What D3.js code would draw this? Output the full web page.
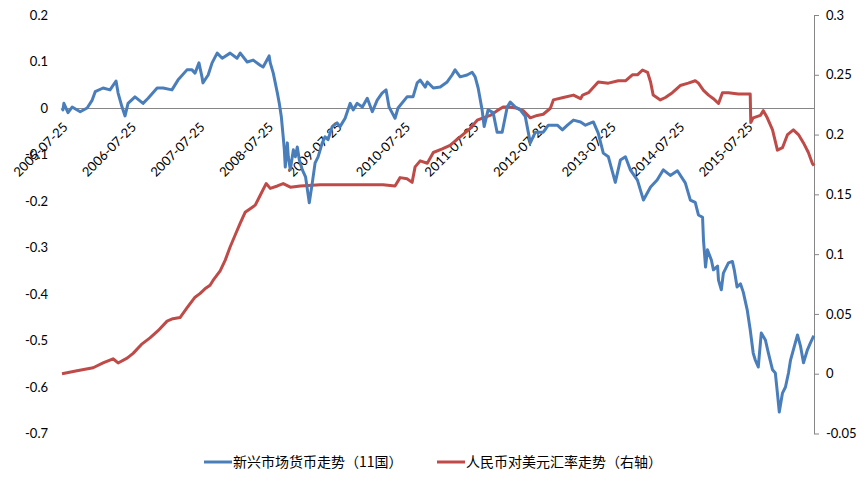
<!DOCTYPE html>
<html>
<head>
<meta charset="utf-8">
<script src="https://cdn.jsdelivr.net/npm/d3@7"></script>
<style>
  body { margin: 0; background: #fff; }
  text { font-family: Lato, "Noto Sans", sans-serif; fill: #000; }
  .legend text { font-family: "Noto Sans CJK SC", sans-serif; }
</style>
</head>
<body>
<div id="chart"></div>
<script>
// 新兴市场货币走势（11国）, left axis: [date, value]
const emSeries = [
  ["2005-07-25",0.000],["2005-07-30",-0.004],["2005-08-04",0.010],["2005-08-26",-0.010],["2005-09-17",0.002],
  ["2005-10-30",-0.008],["2005-12-06",0.000],["2006-01-02",0.017],["2006-01-18",0.035],["2006-03-01",0.043],
  ["2006-04-07",0.039],["2006-05-09",0.058],["2006-05-20",0.032],["2006-06-10",0.002],["2006-06-26",-0.017],
  ["2006-07-12",0.010],["2006-08-18",0.024],["2006-09-30",0.010],["2006-10-27",0.021],["2006-12-14",0.043],
  ["2007-01-15",0.043],["2007-03-03",0.039],["2007-04-04",0.060],["2007-05-22",0.082],["2007-06-18",0.082],
  ["2007-07-04",0.075],["2007-07-25",0.097],["2007-08-10",0.067],["2007-08-15",0.054],["2007-09-12",0.071],
  ["2007-10-03",0.097],["2007-10-30",0.118],["2007-11-26",0.107],["2008-01-07",0.118],["2008-02-13",0.107],
  ["2008-03-01",0.118],["2008-04-07",0.099],["2008-05-09",0.103],["2008-06-15",0.092],["2008-07-01",0.088],
  ["2008-08-02",0.112],["2008-08-08",0.097],["2008-08-24",0.075],["2008-09-15",0.032],["2008-09-25",0.010],
  ["2008-10-06",-0.019],["2008-10-16",-0.062],["2008-10-22",-0.090],["2008-10-27",-0.127],["2008-11-07",-0.075],
  ["2008-11-12",-0.105],["2008-11-23",-0.133],["2008-12-09",-0.090],["2008-12-20",-0.105],["2008-12-30",-0.084],
  ["2009-01-10",-0.112],["2009-01-26",-0.133],["2009-02-12",-0.148],["2009-02-22",-0.176],["2009-03-04",-0.204],
  ["2009-03-20",-0.161],["2009-04-04",-0.118],["2009-04-20",-0.105],["2009-05-12",-0.075],["2009-05-27",-0.062],
  ["2009-06-12",-0.068],["2009-07-04",-0.040],["2009-07-30",-0.032],["2009-08-15",-0.040],["2009-09-11",-0.022],
  ["2009-10-08",0.010],["2009-10-24",-0.004],["2009-11-14",0.010],["2009-12-12",0.002],["2010-01-07",0.021],
  ["2010-02-03",-0.008],["2010-03-01",0.017],["2010-03-27",0.032],["2010-04-17",0.039],["2010-05-03",0.002],
  ["2010-05-19",-0.010],["2010-06-04",-0.022],["2010-06-20",0.000],["2010-08-07",0.024],["2010-09-08",0.024],
  ["2010-09-30",0.054],["2010-10-16",0.060],["2010-11-12",0.045],["2010-11-23",0.056],["2010-12-25",0.043],
  ["2011-01-31",0.045],["2011-03-09",0.056],["2011-04-04",0.071],["2011-04-20",0.082],["2011-05-17",0.067],
  ["2011-06-23",0.071],["2011-07-20",0.077],["2011-08-05",0.067],["2011-08-21",0.043],["2011-09-11",-0.004],
  ["2011-09-22",-0.040],["2011-10-13",-0.004],["2011-11-09",-0.010],["2011-11-30",-0.052],["2011-12-27",-0.052],
  ["2012-01-23",0.002],["2012-02-08",0.013],["2012-03-06",0.002],["2012-04-01",-0.004],["2012-04-28",-0.018],
  ["2012-05-25",-0.075],["2012-06-21",-0.052],["2012-08-02",-0.052],["2012-08-29",-0.037],["2012-10-16",-0.037],
  ["2012-11-12",-0.047],["2012-12-09",-0.037],["2013-01-10",-0.026],["2013-02-17",-0.030],["2013-03-15",-0.037],
  ["2013-04-26",-0.030],["2013-05-22",-0.054],["2013-06-18",-0.097],["2013-07-15",-0.105],["2013-08-21",-0.160],
  ["2013-09-17",-0.112],["2013-10-14",-0.105],["2013-11-09",-0.133],["2013-12-17",-0.155],["2014-01-18",-0.198],
  ["2014-02-25",-0.170],["2014-04-01",-0.155],["2014-05-04",-0.133],["2014-06-10",-0.145],["2014-07-18",-0.135],
  ["2014-08-29",-0.161],["2014-09-25",-0.198],["2014-10-21",-0.203],["2014-11-07",-0.230],["2014-11-29",-0.235],
  ["2014-12-04",-0.284],["2014-12-15",-0.342],["2014-12-25",-0.305],["2015-01-15",-0.327],["2015-01-26",-0.348],
  ["2015-02-17",-0.340],["2015-02-22",-0.370],["2015-03-09",-0.391],["2015-03-20",-0.355],["2015-04-16",-0.333],
  ["2015-05-07",-0.330],["2015-05-17",-0.348],["2015-06-01",-0.385],["2015-06-19",-0.378],["2015-07-04",-0.396],
  ["2015-07-25",-0.434],["2015-08-10",-0.477],["2015-08-26",-0.527],["2015-09-06",-0.542],["2015-09-22",-0.557],
  ["2015-10-08",-0.484],["2015-10-30",-0.499],["2015-11-15",-0.527],["2015-12-07",-0.563],["2015-12-22",-0.570],
  ["2016-01-02",-0.613],["2016-01-12",-0.654],["2016-01-29",-0.613],["2016-02-14",-0.600],["2016-03-01",-0.570],
  ["2016-03-12",-0.542],["2016-03-27",-0.520],["2016-04-18",-0.488],["2016-05-04",-0.512],["2016-05-20",-0.548],
  ["2016-06-10",-0.520],["2016-06-26",-0.505],["2016-07-11",-0.492],["2016-07-15",-0.490]
];

// 人民币对美元汇率走势（右轴）: [date, value]
const cnySeries = [
  ["2005-07-25",0.000],["2005-10-13",0.0025],["2006-01-07",0.005],["2006-03-01",0.009],["2006-04-23",0.0125],
  ["2006-05-20",0.009],["2006-07-07",0.013],["2006-08-08",0.017],["2006-09-25",0.025],["2006-11-06",0.030],
  ["2006-12-19",0.036],["2007-02-05",0.044],["2007-03-08",0.046],["2007-04-15",0.047],["2007-05-22",0.055],
  ["2007-07-04",0.064],["2007-07-30",0.067],["2007-08-26",0.071],["2007-09-22",0.074],["2007-10-08",0.078],
  ["2007-11-15",0.086],["2007-12-12",0.095],["2008-01-07",0.106],["2008-02-03",0.116],["2008-03-01",0.126],
  ["2008-03-27",0.135],["2008-04-23",0.138],["2008-05-20",0.141],["2008-06-15",0.149],["2008-07-17",0.159],
  ["2008-08-08",0.155],["2008-09-15",0.157],["2008-10-16",0.159],["2008-11-23",0.156],["2009-01-15",0.157],
  ["2009-05-01",0.158],["2009-10-08",0.158],["2010-04-01",0.158],["2010-06-04",0.157],["2010-07-01",0.164],
  ["2010-08-07",0.163],["2010-09-03",0.160],["2010-09-19",0.173],["2010-10-16",0.178],["2010-11-23",0.176],
  ["2010-12-25",0.185],["2011-02-11",0.188],["2011-03-24",0.191],["2011-05-17",0.198],["2011-07-09",0.205],
  ["2011-08-16",0.212],["2011-09-17",0.214],["2011-10-24",0.216],["2011-11-30",0.220],["2012-01-01",0.223],
  ["2012-02-08",0.223],["2012-03-16",0.222],["2012-04-17",0.220],["2012-05-25",0.214],["2012-07-01",0.216],
  ["2012-08-02",0.217],["2012-09-09",0.222],["2012-09-25",0.229],["2012-11-17",0.231],["2013-01-10",0.233],
  ["2013-02-17",0.230],["2013-02-28",0.233],["2013-03-31",0.235],["2013-05-22",0.244],["2013-07-15",0.243],
  ["2013-09-06",0.245],["2013-10-14",0.245],["2013-11-20",0.250],["2013-12-17",0.250],["2014-01-13",0.254],
  ["2014-02-09",0.252],["2014-02-25",0.244],["2014-03-11",0.233],["2014-04-18",0.229],["2014-05-15",0.231],
  ["2014-06-21",0.235],["2014-08-02",0.241],["2014-09-14",0.243],["2014-10-21",0.245],["2014-11-07",0.243],
  ["2014-12-04",0.237],["2014-12-31",0.233],["2015-01-26",0.230],["2015-02-22",0.226],["2015-03-15",0.235],
  ["2015-04-16",0.235],["2015-06-08",0.234],["2015-08-10",0.234],["2015-08-13",0.210],["2015-08-26",0.214],
  ["2015-10-03",0.216],["2015-10-19",0.220],["2015-11-09",0.214],["2015-12-07",0.204],["2016-01-02",0.187],
  ["2016-01-29",0.189],["2016-02-25",0.200],["2016-03-27",0.204],["2016-04-23",0.200],["2016-05-20",0.193],
  ["2016-06-15",0.185],["2016-07-06",0.176],["2016-07-15",0.174]
];

const leftTicks = [0.2, 0.1, 0, -0.1, -0.2, -0.3, -0.4, -0.5, -0.6, -0.7];
const rightTicks = [0.3, 0.25, 0.2, 0.15, 0.1, 0.05, 0, -0.05];
const dateTicks = ["2005-07-25","2006-07-25","2007-07-25","2008-07-25","2009-07-25","2010-07-25","2011-07-25","2012-07-25","2013-07-25","2014-07-25","2015-07-25"];
const seriesNames = ["新兴市场货币走势（11国）", "人民币对美元汇率走势（右轴）"];
const seriesColors = ["#4A7EBB", "#BE4B48"];

const width = 865, height = 483;
const plot = {left: 62, right: 814, top: 15, bottom: 433.5};
const parse = d3.timeParse("%Y-%m-%d");

const emData = emSeries.map(([d, v]) => ({date: parse(d), value: v}));
const cnyData = cnySeries.map(([d, v]) => ({date: parse(d), value: v}));

const svg = d3.select("#chart").append("svg")
    .attr("width", width)
    .attr("height", height);

const xScale = d3.scaleTime()
    .domain([parse("2005-07-25"), parse("2016-07-15")])
    .range([plot.left, plot.right]);

const yLeft = d3.scaleLinear()
    .domain([-0.7, 0.2])
    .range([plot.bottom, plot.top]);

const yRight = d3.scaleLinear()
    .domain([-0.05, 0.3])
    .range([plot.bottom, plot.top]);

const fmt = d => String(+d.toFixed(2));

// left axis: labels only
const leftAxis = d3.axisLeft(yLeft)
    .tickValues(leftTicks)
    .tickFormat(fmt)
    .tickSize(0)
    .tickPadding(0);

svg.append("g")
    .attr("transform", `translate(48, 0)`)
    .call(leftAxis)
    .call(g => g.select(".domain").remove())
    .call(g => g.selectAll("text").attr("font-size", 13).attr("font-family", "Lato, sans-serif"));

// right axis
const rightAxis = d3.axisRight(yRight)
    .tickValues(rightTicks)
    .tickFormat(fmt)
    .tickSize(5)
    .tickSizeOuter(0)
    .tickPadding(7);

svg.append("g")
    .attr("transform", `translate(${plot.right}, 0)`)
    .call(rightAxis)
    .call(g => g.select(".domain").attr("stroke", "#868686"))
    .call(g => g.selectAll(".tick line").attr("stroke", "#868686"))
    .call(g => g.selectAll("text").attr("font-size", 13).attr("font-family", "Lato, sans-serif"));

// x axis sits on zero of the left scale
const xAxis = d3.axisBottom(xScale)
    .tickValues(dateTicks.map(parse))
    .tickFormat(d3.timeFormat("%Y-%m-%d"))
    .tickSize(0)
    .tickSizeOuter(0);

const xAxisGroup = svg.append("g")
    .attr("transform", `translate(0, ${yLeft(0)})`)
    .call(xAxis);

xAxisGroup.select(".domain")
    .attr("stroke", "#868686")
    .attr("d", `M${plot.left},0.5H${plot.right}`);

xAxisGroup.selectAll("text")
    .attr("font-size", 13)
    .attr("font-family", "Lato, sans-serif")
    .attr("text-anchor", "end")
    .attr("dy", null)
    .attr("y", 0)
    .attr("transform", "translate(6, 20) rotate(-45)");

// lines
const line = y => d3.line()
    .x(d => xScale(d.date))
    .y(d => y(d.value));

svg.append("path")
    .datum(cnyData)
    .attr("fill", "none")
    .attr("stroke", seriesColors[1])
    .attr("stroke-width", 3)
    .attr("stroke-linejoin", "round")
    .attr("d", line(yRight));

svg.append("path")
    .datum(emData)
    .attr("fill", "none")
    .attr("stroke", seriesColors[0])
    .attr("stroke-width", 3)
    .attr("stroke-linejoin", "round")
    .attr("d", line(yLeft));

// legend
const legendX = [204, 437];
const legend = svg.append("g").attr("class", "legend");

legend.selectAll("line")
    .data(seriesNames)
    .join("line")
    .attr("x1", (d, i) => legendX[i])
    .attr("x2", (d, i) => legendX[i] + 28)
    .attr("y1", 462)
    .attr("y2", 462)
    .attr("stroke", (d, i) => seriesColors[i])
    .attr("stroke-width", 3);

legend.selectAll("text")
    .data(seriesNames)
    .join("text")
    .attr("x", (d, i) => legendX[i] + 29)
    .attr("y", 462)
    .attr("dy", "0.35em")
    .attr("font-size", 14)
    .attr("fill", "#333")
    .text(d => d);
</script>
</body>
</html>
